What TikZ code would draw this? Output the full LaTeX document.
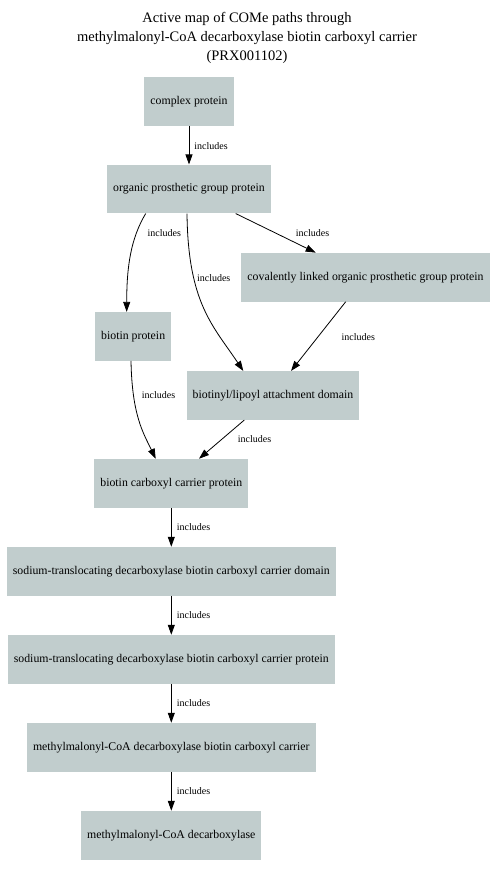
\documentclass[tikz,border=0pt]{standalone}
\usepackage{fontspec}
\setmainfont{Liberation Serif}
\usepackage{xcolor}
\usepackage{tikz}
\usetikzlibrary{arrows.meta}
\definecolor{boxfill}{HTML}{C1CDCD}
\tikzstyle{inchead}=[>/.tip={Triangle[length=10pt,width=7pt]}]
\tikzstyle{box}=[fill=boxfill,inner xsep=6pt,minimum height=48.7pt,font=\fontsize{11.8}{14}\selectfont]
\tikzstyle{inc}=[line width=.8pt,inchead,->]
\tikzstyle{lbl}=[font=\fontsize{10}{12}\selectfont,inner sep=0pt]

\begin{document}
\begin{tikzpicture}[x=1pt,y=-1pt]
	\useasboundingbox (0,0) rectangle (494,876);
	\node[align=center,font=\fontsize{14.5}{19}\selectfont] (title) at (247,37.5)
	  {Active map of COMe paths through\\methylmalonyl-CoA decarboxylase biotin carboxyl carrier\\(PRX001102)};
	\node[box] (cp)   at (189,101.3)   {complex protein};
	\node[box] (ogp)  at (189,189)     {organic prosthetic group protein};
	\node[box] (clo)  at (365.5,277.2) {covalently linked organic prosthetic group protein};
	\node[box] (bp)   at (133.2,336.4) {biotin protein};
	\node[box] (bla)  at (273,395.5)   {biotinyl/lipoyl attachment domain};
	\node[box] (bccp) at (171.3,483.3) {biotin carboxyl carrier protein};
	\node[box] (sdd)  at (171.3,571.3) {sodium-translocating decarboxylase biotin carboxyl carrier domain};
	\node[box] (sdp)  at (171.3,659.3) {sodium-translocating decarboxylase biotin carboxyl carrier protein};
	\node[box] (mmc)  at (171.3,747.3) {methylmalonyl-CoA decarboxylase biotin carboxyl carrier};
	\node[box] (mmd)  at (171.3,835.3) {methylmalonyl-CoA decarboxylase};
	\draw[inc] (cp) -- (ogp) node[lbl] at (211,146) {includes};
	\draw[inc] ([xshift=-43.3pt]ogp.south) .. controls +(-15,25) and +(0,-45) .. ([xshift=-6.5pt]bp.north)
	  node[lbl] at (164.3,233) {includes};
	\draw[inc] ([xshift=-2pt]ogp.south) .. controls +(1,90) and +(-30,-45) .. ([xshift=-29.7pt]bla.north)
	  node[lbl] at (213.7,277.7) {includes};
	\draw[inc] ([xshift=46.7pt]ogp.south) -- ([xshift=-49.8pt]clo.north) node[lbl] at (312.5,233) {includes};
	\draw[inc] ([xshift=-19.8pt]clo.south) -- ([xshift=18pt]bla.north) node[lbl] at (358.3,336.7) {includes};
	\draw[inc] ([xshift=-2.2pt]bp.south) .. controls +(1,55) and +(-12,-25) .. ([xshift=-15.6pt]bccp.north)
	  node[lbl] at (158.5,395) {includes};
	\draw[inc] ([xshift=-28.7pt]bla.south) -- ([xshift=27.7pt]bccp.north) node[lbl] at (254.5,439.3) {includes};
	\draw[inc] (bccp) -- (sdd) node[lbl] at (193.5,527.3) {includes};
	\draw[inc] (sdd) -- (sdp) node[lbl] at (193.5,615.3) {includes};
	\draw[inc] (sdp) -- (mmc) node[lbl] at (193.5,703.3) {includes};
	\draw[inc] (mmc) -- (mmd) node[lbl] at (193.5,791.3) {includes};
\end{tikzpicture}
\end{document}
